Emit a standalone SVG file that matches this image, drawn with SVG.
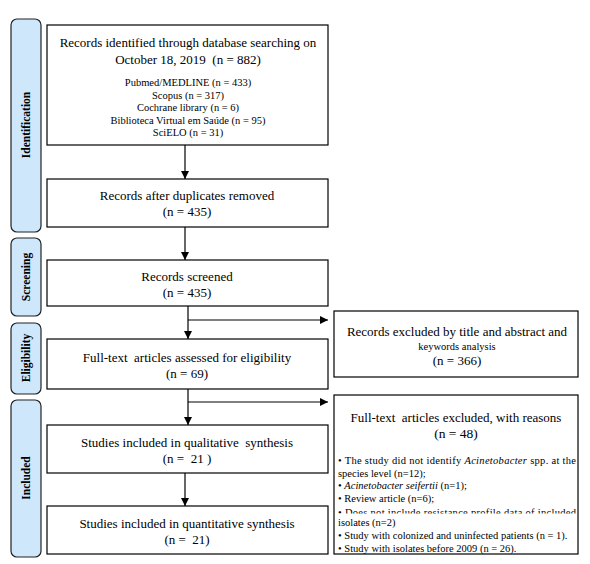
<svg xmlns="http://www.w3.org/2000/svg" width="590" height="564" viewBox="0 0 590 564">
<style>
.box{fill:#fff;stroke:#000;stroke-width:1.2}
.side{fill:#cfe7fb;stroke:#222;stroke-width:1.2}
.t{fill:#000;text-anchor:middle}
.m{font-size:13px}
.s{font-size:10.5px}
.sl{font-weight:bold;font-size:11.5px;text-anchor:middle;fill:#000}
.b{font-size:10.5px;fill:#000}
.c{fill:none;stroke:#000;stroke-width:1.2}
text{font-family:'Liberation Serif','Times New Roman','DejaVu Serif',serif}
</style>
<defs>
<marker id="ah" viewBox="0 0 10 10" refX="10" refY="5" markerWidth="8" markerHeight="8" markerUnits="userSpaceOnUse" orient="auto">
<path d="M0,0 L10,5 L0,10 z" fill="#000"/>
</marker>
<clipPath id="clipDoes"><rect x="334" y="505" width="244" height="8.5"/></clipPath>
</defs>
<rect width="590" height="564" fill="#fff"/>
<g font-family="Liberation Serif, Times New Roman, serif">
<g id="side-identification">
<rect class="side" x="11" y="19" width="30" height="213" rx="6"/>
<text class="sl" transform="translate(30,125) rotate(-90)">Identification</text>
</g>
<g id="side-screening">
<rect class="side" x="11" y="238" width="30" height="78" rx="6"/>
<text class="sl" transform="translate(30,277) rotate(-90)">Screening</text>
</g>
<g id="side-eligibility">
<rect class="side" x="11" y="323" width="30" height="71" rx="6"/>
<text class="sl" transform="translate(30,358) rotate(-90)">Eligibility</text>
</g>
<g id="side-included">
<rect class="side" x="11" y="400" width="30" height="157" rx="6"/>
<text class="sl" transform="translate(30,478) rotate(-90)">Included</text>
</g>

<g id="connectors">
<line class="c" x1="185" y1="145" x2="185" y2="179" marker-end="url(#ah)"/>
<line class="c" x1="185" y1="227" x2="185" y2="260" marker-end="url(#ah)"/>
<line class="c" x1="188" y1="306" x2="188" y2="339" marker-end="url(#ah)"/>
<line class="c" x1="188" y1="320" x2="328" y2="320" marker-end="url(#ah)"/>
<line class="c" x1="188" y1="389" x2="188" y2="425" marker-end="url(#ah)"/>
<line class="c" x1="188" y1="402" x2="328" y2="402" marker-end="url(#ah)"/>
<line class="c" x1="185" y1="473" x2="185" y2="506" marker-end="url(#ah)"/>
</g>

<g id="n-identified">
<rect class="box" x="47" y="25" width="281" height="120"/>
<text class="t m" x="188" y="47">Records identified through database searching on</text>
<text class="t m" x="188" y="64">October 18, 2019&#160; (n = 882)</text>
<text class="t s" x="188" y="86">Pubmed/MEDLINE (n = 433)</text>
<text class="t s" x="188" y="99">Scopus (n = 317)</text>
<text class="t s" x="188" y="111">Cochrane library (n = 6)</text>
<text class="t s" x="188" y="124">Biblioteca Virtual em Saúde (n = 95)</text>
<text class="t s" x="188" y="136">SciELO (n = 31)</text>
</g>

<g id="n-duplicates">
<rect class="box" x="47" y="179" width="281" height="48"/>
<text class="t m" x="187" y="200">Records after duplicates removed</text>
<text class="t m" x="187" y="216">(n = 435)</text>
</g>

<g id="n-screened">
<rect class="box" x="47" y="260" width="281" height="46"/>
<text class="t m" x="187" y="281">Records screened</text>
<text class="t m" x="187" y="297">(n = 435)</text>
</g>

<g id="n-fulltext">
<rect class="box" x="47" y="339" width="281" height="50"/>
<text class="t m" x="187" y="362">Full-text&#160; articles assessed for eligibility</text>
<text class="t m" x="187" y="378">(n = 69)</text>
</g>

<g id="n-qualitative">
<rect class="box" x="47" y="425" width="281" height="48"/>
<text class="t m" x="187" y="447">Studies included in qualitative&#160; synthesis</text>
<text class="t m" x="187" y="463">(n =&#160; 21 )</text>
</g>

<g id="n-quantitative">
<rect class="box" x="47" y="506" width="281" height="48"/>
<text class="t m" x="187" y="528">Studies included in quantitative synthesis</text>
<text class="t m" x="187" y="544">(n =&#160; 21)</text>
</g>

<g id="n-excluded-title">
<rect class="box" x="334" y="311" width="244" height="66"/>
<text class="t m" x="457" y="336">Records excluded by title and abstract and</text>
<text class="t s" x="457" y="350">keywords analysis</text>
<text class="t m" x="457" y="365">(n = 366)</text>
</g>

<g id="n-excluded-fulltext">
<rect class="box" x="334" y="395" width="244" height="159"/>
<text class="t" style="font-size:13px" x="456" y="422">Full-text&#160; articles excluded, with reasons</text>
<text class="t" style="font-size:13.5px" x="456" y="438">(n = 48)</text>
<text class="b" x="338" y="464" textLength="238" lengthAdjust="spacing">• The study did not identify <tspan font-style="italic">Acinetobacter</tspan> spp. at the</text>
<text class="b" x="338" y="477">species level (n=12);</text>
<text class="b" x="338" y="489">• <tspan font-style="italic">Acinetobacter seifertii</tspan> (n=1);</text>
<text class="b" x="338" y="502">• Review article (n=6);</text>
<text class="b" x="338" y="516" clip-path="url(#clipDoes)" textLength="238" lengthAdjust="spacing">• Does not include resistance profile data of included</text>
<text class="b" x="338" y="526">isolates (n=2)</text>
<text class="b" x="338" y="539">• Study with colonized and uninfected patients (n = 1).</text>
<text class="b" x="338" y="552">• Study with isolates before 2009 (n = 26).</text>
</g>
</g>
</svg>
